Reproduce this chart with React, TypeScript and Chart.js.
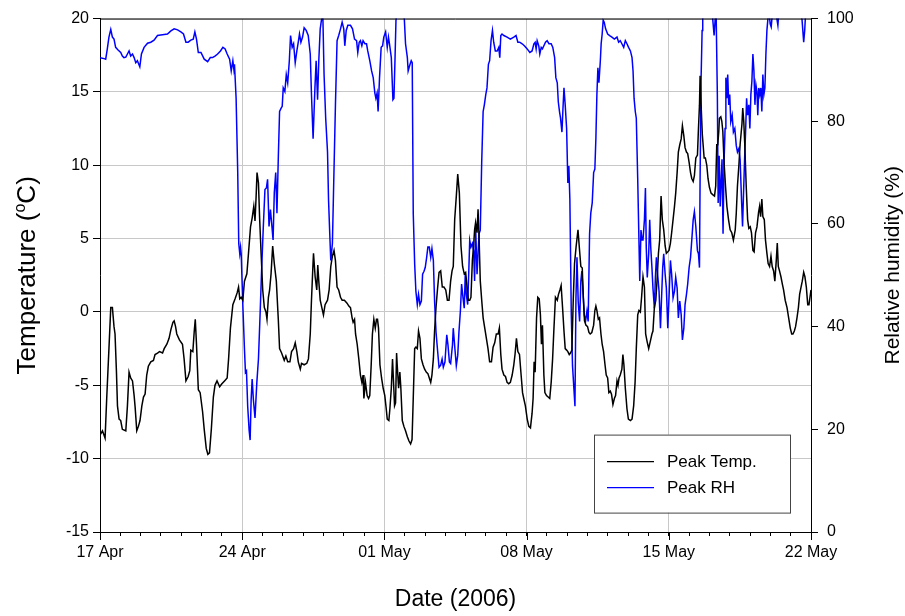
import React, { useEffect, useRef } from 'react';
import { Chart, registerables } from 'chart.js';

Chart.register(...registerables);

// Tick labels of the date axis (one every 7 days from 17 Apr 2006)
const dateLabels = ['17 Apr', '24 Apr', '01 May', '08 May', '15 May', '22 May'];

// Peak temperature: days since 17 Apr 2006, and °C
const tempDay = [
  0.00, 0.12, 0.25, 0.33, 0.44, 0.53, 0.61, 0.69, 0.74, 0.81, 0.86, 0.94, 1.02, 1.10, 1.27, 1.35, 1.43, 1.51, 1.60, 1.68,
  1.73, 1.81, 1.89, 1.97, 2.06, 2.14, 2.22, 2.30, 2.38, 2.50, 2.63, 2.71, 2.83, 2.93, 3.08, 3.16, 3.29, 3.40, 3.49, 3.59,
  3.65, 3.72, 3.78, 3.91, 4.06, 4.14, 4.23, 4.34, 4.42, 4.47, 4.57, 4.64, 4.69, 4.75, 4.84, 4.93, 5.05, 5.13, 5.23, 5.31,
  5.39, 5.48, 5.58, 5.66, 5.76, 5.89, 6.00, 6.13, 6.26, 6.33, 6.42, 6.54, 6.65, 6.75, 6.82, 6.88, 6.95, 7.03, 7.11, 7.23,
  7.31, 7.41, 7.49, 7.57, 7.63, 7.68, 7.73, 7.80, 7.86, 7.93, 8.01, 8.09, 8.17, 8.22, 8.29, 8.35, 8.42, 8.50, 8.58, 8.68,
  8.78, 8.84, 8.94, 9.07, 9.15, 9.24, 9.35, 9.43, 9.53, 9.61, 9.69, 9.76, 9.86, 9.92, 10.05, 10.18, 10.26, 10.35, 10.41, 10.48,
  10.51, 10.59, 10.67, 10.72, 10.77, 10.84, 10.92, 11.00, 11.08, 11.20, 11.28, 11.36, 11.44, 11.52, 11.59, 11.67, 11.75, 11.84, 11.92, 12.03,
  12.16, 12.25, 12.33, 12.41, 12.46, 12.53, 12.58, 12.66, 12.74, 12.82, 12.89, 12.95, 12.99, 13.07, 13.15, 13.22, 13.28, 13.35, 13.41, 13.48,
  13.55, 13.61, 13.66, 13.71, 13.78, 13.86, 13.94, 14.02, 14.09, 14.14, 14.22, 14.27, 14.34, 14.40, 14.45, 14.50, 14.55, 14.60, 14.63, 14.70,
  14.76, 14.81, 14.88, 14.96, 15.04, 15.13, 15.21, 15.29, 15.36, 15.42, 15.49, 15.55, 15.62, 15.68, 15.75, 15.82, 15.90, 15.98, 16.06, 16.14,
  16.21, 16.28, 16.34, 16.41, 16.47, 16.54, 16.61, 16.69, 16.77, 16.85, 16.93, 17.02, 17.10, 17.18, 17.26, 17.33, 17.39, 17.46, 17.54, 17.61,
  17.69, 17.77, 17.85, 17.93, 18.00, 18.07, 18.13, 18.20, 18.26, 18.33, 18.39, 18.44, 18.49, 18.56, 18.61, 18.66, 18.72, 18.79, 18.86, 18.94,
  19.02, 19.10, 19.18, 19.27, 19.35, 19.43, 19.51, 19.60, 19.66, 19.73, 19.79, 19.88, 19.96, 20.04, 20.12, 20.20, 20.29, 20.37, 20.43, 20.50,
  20.57, 20.65, 20.73, 20.80, 20.86, 20.94, 21.03, 21.11, 21.19, 21.27, 21.32, 21.37, 21.42, 21.49, 21.55, 21.62, 21.68, 21.73, 21.78, 21.85,
  21.90, 21.98, 22.06, 22.14, 22.21, 22.28, 22.34, 22.42, 22.51, 22.57, 22.64, 22.70, 22.77, 22.84, 22.90, 22.97, 23.03, 23.10, 23.16, 23.23,
  23.30, 23.36, 23.44, 23.53, 23.59, 23.67, 23.74, 23.79, 23.85, 23.92, 24.00, 24.07, 24.13, 24.21, 24.30, 24.36, 24.41, 24.46, 24.53, 24.59,
  24.66, 24.72, 24.79, 24.86, 24.92, 24.99, 25.05, 25.12, 25.18, 25.25, 25.32, 25.38, 25.45, 25.50, 25.55, 25.61, 25.69, 25.74, 25.79, 25.86,
  25.94, 26.01, 26.11, 26.19, 26.27, 26.34, 26.40, 26.47, 26.53, 26.60, 26.66, 26.73, 26.80, 26.86, 26.93, 27.01, 27.09, 27.17, 27.22, 27.29,
  27.36, 27.42, 27.49, 27.55, 27.62, 27.68, 27.75, 27.82, 27.88, 27.95, 28.01, 28.08, 28.14, 28.21, 28.28, 28.34, 28.41, 28.47, 28.54, 28.61,
  28.67, 28.74, 28.80, 28.87, 28.93, 29.00, 29.07, 29.13, 29.20, 29.26, 29.33, 29.41, 29.46, 29.51, 29.54, 29.59, 29.65, 29.74, 29.80, 29.87,
  29.93, 30.00, 30.08, 30.16, 30.25, 30.31, 30.36, 30.41, 30.46, 30.49, 30.56, 30.61, 30.66, 30.72, 30.79, 30.86, 30.94, 31.02, 31.10, 31.18,
  31.27, 31.32, 31.38, 31.45, 31.51, 31.60, 31.64, 31.69, 31.74, 31.81, 31.88, 31.94, 32.01, 32.07, 32.14, 32.20, 32.27, 32.34, 32.42, 32.47,
  32.52, 32.58, 32.63, 32.70, 32.76, 32.83, 32.89, 32.96, 33.03, 33.09, 33.16, 33.22, 33.29, 33.34, 33.39, 33.45, 33.52, 33.59, 33.65, 33.73,
  33.82, 33.90, 33.98, 34.05, 34.11, 34.18, 34.24, 34.31, 34.38, 34.44, 34.51, 34.57, 34.64, 34.70, 34.77, 34.84, 34.90, 34.97, 35.00,
];
const tempC = [
  -8.4, -8.1, -8.6, -5.9, -2.5, 0.3, 0.3, -1.0, -1.5, -4.1, -6.4, -7.3, -7.4, -8.0, -8.1, -6.4, -4.1, -4.5, -4.7, -5.7,
  -6.5, -8.1, -7.8, -7.4, -6.4, -5.8, -5.6, -4.3, -3.7, -3.4, -3.3, -2.9, -2.8, -2.7, -2.8, -2.5, -2.2, -1.8, -1.2, -0.7,
  -0.6, -1.0, -1.5, -1.9, -2.2, -3.2, -4.7, -4.4, -4.0, -2.6, -2.7, -1.3, -0.5, -2.2, -5.3, -5.5, -6.8, -8.0, -9.3, -9.7,
  -9.6, -8.0, -5.8, -5.0, -4.7, -5.1, -4.9, -4.7, -4.5, -3.2, -1.1, 0.5, 0.9, 1.3, 1.7, 0.9, 1.0, 0.8, 2.1, 2.6,
  4.0, 5.8, 6.4, 7.2, 6.2, 7.7, 9.5, 8.8, 6.3, 4.0, 1.5, 0.3, 0.0, -0.5, 1.0, 1.5, 2.6, 4.5, 3.3, 2.1,
  -0.6, -2.5, -2.8, -3.3, -3.0, -3.4, -3.4, -2.7, -2.5, -2.1, -2.7, -3.4, -3.9, -3.5, -3.6, -3.5, -3.2, -1.5, 0.8, 3.1,
  4.0, 2.4, 1.5, 3.2, 2.1, 0.8, 0.3, -0.2, 0.5, 0.8, 1.5, 3.1, 3.8, 4.2, 3.5, 1.7, 1.5, 1.0, 0.8, 0.8,
  0.6, 0.4, 0.3, -0.4, -0.7, -0.5, -1.5, -2.2, -3.2, -4.3, -4.8, -4.3, -5.9, -4.8, -5.7, -5.9, -5.7, -3.6, -1.5, -0.5,
  -1.1, -0.5, -0.5, -1.1, -3.6, -4.5, -5.2, -5.7, -6.6, -7.3, -7.4, -6.6, -5.2, -3.2, -4.8, -6.4, -6.2, -2.8, -3.6, -5.2,
  -4.1, -5.2, -7.4, -7.8, -8.1, -8.5, -8.8, -9.0, -8.7, -5.9, -2.5, -2.4, -2.5, -1.3, -1.8, -3.2, -3.6, -3.9, -4.1, -4.2,
  -4.5, -4.8, -4.3, -3.2, -1.3, 0.3, 1.5, 2.7, 2.8, 1.7, 1.7, 1.5, 0.8, 0.8, 2.1, 2.8, 3.1, 6.3, 7.9, 9.4,
  8.1, 4.5, 3.1, 2.6, 2.7, 1.7, 0.8, 0.8, 1.0, 3.5, 4.5, 5.6, 6.1, 5.4, 7.0, 5.1, 2.1, 0.8, -0.4, -1.1,
  -1.8, -2.5, -3.4, -3.4, -2.4, -2.1, -1.5, -1.5, -1.1, -2.9, -3.9, -4.3, -4.4, -4.8, -4.9, -4.8, -4.3, -3.6, -2.9, -1.8,
  -2.7, -2.9, -4.3, -5.5, -5.9, -6.4, -7.3, -7.8, -7.9, -6.9, -5.9, -3.4, -4.1, -0.4, 1.0, 0.9, -0.2, -2.2, -0.9, -4.3,
  -5.5, -5.7, -5.8, -5.9, -4.8, -3.2, -1.3, 1.0, 0.8, 1.2, 1.5, 1.8, 0.3, -1.3, -2.5, -2.6, -2.7, -2.9, -2.8, -2.6,
  1.0, 3.3, 4.5, 5.6, 4.5, 3.1, 3.0, 1.0, -0.6, -0.9, -1.0, -1.4, -1.5, -1.4, -0.9, 0.1, 0.4, 0.1, -0.5, -0.4,
  -1.5, -2.2, -2.7, -3.6, -4.3, -4.5, -5.5, -5.4, -5.6, -6.3, -5.9, -5.7, -4.7, -5.0, -4.5, -4.3, -3.9, -2.9, -3.6, -5.2,
  -6.6, -7.3, -7.4, -7.3, -6.4, -4.8, -2.5, -0.2, 0.1, 0.0, 1.0, 2.4, 1.7, -1.5, -2.0, -2.5, -2.0, -1.5, -1.3, 0.3,
  0.8, 2.1, 4.0, 4.9, 7.9, 6.3, 5.6, 4.5, 4.0, 4.1, 4.2, 4.7, 5.4, 6.3, 7.2, 8.1, 9.5, 10.9, 11.4, 11.8,
  12.7, 12.0, 11.2, 10.9, 10.8, 10.2, 9.5, 9.1, 8.9, 9.3, 10.5, 10.7, 12.5, 14.1, 16.1, 14.1, 12.1, 10.5, 10.5, 10.0,
  9.1, 8.5, 8.1, 8.0, 7.9, 8.6, 11.4, 11.4, 12.3, 13.2, 13.3, 13.0, 12.3, 10.2, 8.6, 7.2, 6.3, 5.6, 5.4, 4.9,
  5.6, 6.7, 8.6, 10.0, 11.4, 12.8, 13.9, 13.0, 11.4, 8.6, 6.3, 5.7, 5.8, 5.4, 4.2, 4.1, 5.4, 5.8, 6.8, 7.2,
  6.5, 7.7, 6.5, 6.3, 4.9, 4.0, 3.3, 3.1, 3.8, 3.1, 2.8, 2.1, 3.5, 4.7, 3.1, 2.8, 2.4, 1.9, 1.5, 0.8,
  0.3, -0.4, -1.1, -1.5, -1.5, -1.3, -1.0, -0.4, 0.3, 1.2, 1.7, 2.1, 2.7, 2.4, 1.7, 0.5, 0.5, 1.2, 1.5,
];

// Peak relative humidity: days since 17 Apr 2006, and %
const rhDay = [
  0.00, 0.20, 0.28, 0.36, 0.44, 0.53, 0.61, 0.69, 0.77, 0.89, 1.02, 1.10, 1.18, 1.27, 1.35, 1.43, 1.51, 1.60, 1.68, 1.76,
  1.84, 1.96, 2.04, 2.17, 2.34, 2.50, 2.66, 2.83, 2.99, 3.16, 3.32, 3.49, 3.65, 3.82, 3.98, 4.11, 4.23, 4.34, 4.47, 4.59,
  4.67, 4.75, 4.84, 4.97, 5.13, 5.30, 5.43, 5.54, 5.66, 5.79, 5.93, 6.05, 6.16, 6.26, 6.38, 6.46, 6.54, 6.59, 6.62, 6.70,
  6.78, 6.83, 6.88, 6.92, 6.95, 7.03, 7.11, 7.16, 7.21, 7.27, 7.34, 7.39, 7.44, 7.49, 7.55, 7.63, 7.72, 7.80, 7.88, 7.96,
  8.04, 8.12, 8.19, 8.25, 8.32, 8.39, 8.45, 8.52, 8.58, 8.65, 8.71, 8.78, 8.84, 8.91, 8.97, 9.02, 9.10, 9.17, 9.24, 9.32,
  9.38, 9.46, 9.53, 9.61, 9.69, 9.76, 9.82, 9.89, 9.97, 10.05, 10.15, 10.25, 10.35, 10.41, 10.49, 10.58, 10.64, 10.71, 10.77, 10.84,
  10.90, 10.97, 11.03, 11.11, 11.20, 11.25, 11.31, 11.36, 11.44, 11.52, 11.59, 11.67, 11.75, 11.84, 11.92, 12.00, 12.05, 12.12, 12.20, 12.33,
  12.43, 12.53, 12.63, 12.69, 12.76, 12.82, 12.89, 12.95, 13.04, 13.12, 13.18, 13.28, 13.37, 13.45, 13.53, 13.58, 13.64, 13.69, 13.76, 13.84,
  13.91, 13.97, 14.06, 14.14, 14.20, 14.25, 14.34, 14.42, 14.47, 14.52, 14.57, 14.63, 14.80, 14.93, 14.98, 15.04, 15.13, 15.17, 15.24, 15.32,
  15.37, 15.42, 15.49, 15.55, 15.62, 15.68, 15.75, 15.82, 15.88, 15.95, 16.01, 16.08, 16.14, 16.21, 16.28, 16.34, 16.41, 16.47, 16.54, 16.61,
  16.69, 16.77, 16.84, 16.90, 16.98, 17.07, 17.13, 17.20, 17.26, 17.35, 17.39, 17.47, 17.54, 17.61, 17.67, 17.74, 17.80, 17.87, 17.93, 17.98,
  18.03, 18.10, 18.16, 18.20, 18.26, 18.33, 18.39, 18.44, 18.49, 18.56, 18.61, 18.66, 18.72, 18.79, 18.86, 18.92, 18.99, 19.05, 19.12, 19.18,
  19.25, 19.32, 19.38, 19.46, 19.55, 19.63, 19.68, 19.73, 19.79, 19.88, 20.04, 20.20, 20.37, 20.48, 20.57, 20.66, 20.78, 20.89, 21.03, 21.16,
  21.27, 21.36, 21.42, 21.47, 21.52, 21.60, 21.65, 21.72, 21.78, 21.85, 21.93, 22.01, 22.10, 22.21, 22.29, 22.38, 22.44, 22.51, 22.56, 22.62,
  22.67, 22.74, 22.79, 22.84, 22.90, 22.97, 23.03, 23.08, 23.13, 23.20, 23.26, 23.33, 23.38, 23.43, 23.48, 23.54, 23.61, 23.67, 23.72, 23.77,
  23.84, 23.90, 23.97, 24.03, 24.10, 24.16, 24.23, 24.30, 24.36, 24.41, 24.46, 24.51, 24.56, 24.63, 24.67, 24.72, 24.77, 24.82, 24.89, 24.99,
  25.09, 25.20, 25.32, 25.45, 25.53, 25.61, 25.69, 25.78, 25.86, 25.94, 26.02, 26.11, 26.19, 26.24, 26.29, 26.35, 26.40, 26.47, 26.52, 26.57,
  26.63, 26.68, 26.73, 26.80, 26.85, 26.89, 26.94, 27.01, 27.06, 27.11, 27.17, 27.22, 27.29, 27.34, 27.39, 27.45, 27.52, 27.59, 27.65, 27.70,
  27.75, 27.82, 27.88, 27.95, 28.01, 28.08, 28.14, 28.21, 28.28, 28.34, 28.41, 28.47, 28.54, 28.61, 28.67, 28.74, 28.80, 28.87, 28.93, 29.00,
  29.07, 29.13, 29.20, 29.26, 29.33, 29.41, 29.46, 29.51, 29.54, 29.59, 29.64, 29.67, 29.87, 30.12, 30.16, 30.23, 30.28, 30.33, 30.39, 30.43,
  30.48, 30.53, 30.58, 30.62, 30.67, 30.72, 30.77, 30.81, 30.86, 30.90, 30.95, 31.00, 31.05, 31.12, 31.18, 31.25, 31.32, 31.38, 31.45, 31.51,
  31.58, 31.63, 31.68, 31.73, 31.78, 31.83, 31.88, 31.94, 31.99, 32.04, 32.09, 32.14, 32.19, 32.24, 32.29, 32.34, 32.38, 32.43, 32.48, 32.53,
  32.58, 32.63, 32.68, 32.73, 32.78, 32.83, 32.88, 32.93, 32.99, 33.04, 33.09, 33.24, 33.37, 33.42, 33.82, 34.47, 34.56, 34.64, 34.69, 34.74,
  35.00,
];
const rhPct = [
  92.4, 92.2, 92.1, 94.1, 96.4, 97.9, 96.4, 96.0, 94.4, 93.9, 93.4, 92.7, 92.4, 92.5, 93.1, 93.7, 92.7, 93.1, 92.4, 91.4,
  91.8, 90.6, 93.1, 94.4, 95.2, 95.4, 95.8, 96.7, 96.8, 96.9, 97.0, 97.6, 98.0, 97.8, 97.4, 97.0, 95.4, 95.4, 95.8, 96.0,
  97.4, 96.0, 93.4, 93.4, 92.1, 91.6, 92.4, 92.4, 92.7, 93.1, 93.7, 94.4, 94.1, 93.1, 92.1, 89.8, 91.8, 90.1, 91.1, 84.5,
  70.0, 56.2, 54.2, 55.5, 54.2, 44.3, 35.7, 31.1, 31.4, 24.5, 19.9, 17.9, 25.8, 29.8, 25.8, 22.2, 29.1, 33.7, 42.3, 51.5,
  59.5, 66.7, 67.0, 68.7, 59.5, 62.8, 60.1, 56.9, 66.1, 70.0, 62.1, 73.3, 81.9, 82.5, 82.9, 86.5, 85.8, 89.1, 87.5, 91.8,
  96.7, 94.4, 95.1, 91.4, 93.7, 95.4, 97.0, 95.4, 96.4, 98.2, 97.7, 96.7, 93.1, 85.2, 76.6, 86.5, 91.8, 84.2, 91.8, 98.0,
  99.7, 100.5, 89.1, 80.6, 74.0, 64.7, 58.1, 52.9, 56.2, 70.7, 83.2, 95.7, 96.7, 98.0, 99.3, 98.0, 94.7, 97.7, 98.7, 98.7,
  98.0, 96.0, 95.7, 93.4, 95.4, 95.7, 94.7, 95.7, 95.1, 95.1, 93.7, 91.8, 89.8, 88.5, 85.5, 84.5, 85.5, 81.9, 88.5, 94.4,
  94.7, 96.4, 97.4, 94.4, 96.4, 95.1, 92.4, 84.2, 84.5, 91.8, 99.7, 101.5, 102.0, 101.5, 100.0, 95.1, 92.4, 89.8, 90.8, 91.8,
  91.4, 62.1, 52.2, 46.9, 44.3, 46.3, 44.3, 45.0, 50.2, 50.8, 51.5, 53.5, 55.5, 55.5, 53.5, 55.2, 52.9, 45.0, 39.0, 35.7,
  32.1, 32.5, 33.7, 32.1, 33.1, 38.4, 36.4, 33.1, 32.8, 36.4, 39.7, 35.7, 32.4, 34.4, 39.0, 43.0, 48.3, 45.6, 43.6, 50.2,
  46.3, 44.3, 51.5, 56.8, 55.5, 56.2, 54.8, 48.9, 59.5, 50.2, 54.2, 58.1, 58.8, 72.0, 81.9, 83.2, 85.2, 86.5, 91.1, 91.8,
  95.7, 97.7, 95.4, 93.7, 93.7, 94.4, 92.4, 96.7, 97.0, 96.7, 96.4, 96.0, 96.4, 96.7, 95.4, 95.4, 95.1, 94.7, 94.1, 93.4,
  93.7, 95.1, 95.4, 94.1, 95.7, 94.7, 93.1, 94.4, 94.1, 94.7, 95.4, 95.7, 95.1, 95.1, 94.4, 92.4, 88.5, 87.5, 83.8, 81.9,
  80.6, 77.9, 82.5, 86.5, 83.2, 78.6, 68.0, 71.3, 64.7, 42.3, 32.4, 27.8, 24.5, 45.6, 53.5, 44.9, 41.0, 48.9, 50.8, 47.5,
  42.3, 41.0, 43.0, 41.0, 58.1, 62.1, 64.1, 70.0, 70.7, 76.6, 85.2, 90.4, 87.5, 91.8, 95.1, 97.0, 99.7, 99.3, 98.0, 97.0,
  96.7, 96.4, 96.0, 96.4, 95.4, 95.7, 95.1, 94.4, 95.7, 95.1, 94.4, 93.7, 92.4, 89.8, 84.5, 81.9, 80.6, 68.7, 58.8, 48.9,
  58.8, 56.9, 56.9, 60.8, 67.0, 55.5, 49.6, 54.2, 60.8, 55.5, 51.5, 47.5, 43.6, 49.6, 53.5, 50.2, 46.9, 39.7, 46.3, 51.5,
  54.2, 50.2, 47.5, 39.7, 45.6, 52.9, 50.2, 45.6, 46.9, 49.6, 47.5, 41.7, 45.0, 42.3, 37.4, 39.7, 44.3, 46.3, 48.3, 51.5,
  53.5, 56.8, 60.8, 62.4, 59.5, 54.8, 54.2, 51.5, 68.7, 88.5, 97.7, 102.0, 103.0, 102.0, 100.0, 96.7, 99.7, 101.0, 85.2, 64.1,
  73.3, 63.4, 68.7, 72.6, 58.1, 72.0, 78.6, 88.5, 84.5, 89.1, 83.2, 85.2, 79.9, 81.2, 77.9, 78.6, 75.3, 74.0, 74.7, 72.6,
  64.7, 59.5, 66.1, 72.6, 77.9, 84.5, 81.2, 83.2, 78.6, 85.2, 87.8, 93.1, 89.8, 83.2, 87.1, 85.8, 81.2, 86.5, 85.2, 86.5,
  81.9, 89.1, 85.2, 86.5, 93.1, 97.7, 100.0, 101.5, 99.0, 98.4, 100.5, 102.0, 98.7, 101.5, 103.0, 102.0, 99.7, 95.4, 97.7, 101.5,
  102.0,
];

const FONT = '"Liberation Sans", Arial, Helvetica, sans-serif';
const TICK_FONT = 16;

export default function App() {
  const ref = useRef<HTMLCanvasElement | null>(null);

  useEffect(() => {
    const canvas = ref.current;
    if (!canvas) return;

    const decorations = {
      id: 'decorations',
      afterDatasetsDraw(chart: any) {
        const { ctx, chartArea: a } = chart;
        ctx.save();
        // top frame line
        ctx.strokeStyle = '#000';
        ctx.lineWidth = 1;
        ctx.beginPath();
        ctx.moveTo(a.left, a.top + 0.5);
        ctx.lineTo(a.right, a.top + 0.5);
        ctx.stroke();
        ctx.restore();
      },
      afterDraw(chart: any) {
        const { ctx, chartArea: a } = chart;
        const xs = chart.scales.x;
        ctx.save();
        // longer major ticks every 7 days
        ctx.strokeStyle = '#000';
        ctx.lineWidth = 1;
        for (let v = 0; v <= 35; v += 7) {
          const px = Math.round(xs.getPixelForValue(v)) + 0.5;
          ctx.beginPath();
          ctx.moveTo(px, a.bottom);
          ctx.lineTo(px, a.bottom + 8);
          ctx.stroke();
        }

        // legend box
        const bx = a.right - 217;
        const by = a.top + 416;
        const bw = 196;
        const bh = 78;
        ctx.fillStyle = '#fff';
        ctx.fillRect(bx, by, bw, bh);
        ctx.strokeStyle = '#444';
        ctx.lineWidth = 1;
        ctx.strokeRect(bx + 0.5, by + 0.5, bw, bh);
        const items = [
          { label: chart.data.datasets[0].label, color: '#000' },
          { label: chart.data.datasets[1].label, color: '#0000ff' },
        ];
        ctx.font = `17px ${FONT}`;
        ctx.textBaseline = 'middle';
        ctx.textAlign = 'left';
        items.forEach((it, i) => {
          const ly = by + 27 + i * 26;
          ctx.strokeStyle = it.color;
          ctx.lineWidth = 1.2;
          ctx.beginPath();
          ctx.moveTo(bx + 13, ly);
          ctx.lineTo(bx + 60, ly);
          ctx.stroke();
          ctx.fillStyle = '#000';
          ctx.fillText(it.label, bx + 73, ly + 1);
        });

        // x axis title
        ctx.fillStyle = '#000';
        ctx.textAlign = 'center';
        ctx.textBaseline = 'middle';
        ctx.font = `23px ${FONT}`;
        ctx.fillText('Date (2006)', (a.left + a.right) / 2, 600);

        // left axis title with superscript o
        const cy = (a.top + a.bottom) / 2;
        ctx.save();
        ctx.translate(26, cy);
        ctx.rotate(-Math.PI / 2);
        const big = `26px ${FONT}`;
        const small = `16px ${FONT}`;
        const p1 = 'Temperature (';
        const p2 = 'o';
        const p3 = 'C)';
        ctx.font = big;
        const w1 = ctx.measureText(p1).width;
        const w3 = ctx.measureText(p3).width;
        ctx.font = small;
        const w2 = ctx.measureText(p2).width;
        const total = w1 + w2 + w3;
        let x0 = -total / 2;
        ctx.textAlign = 'left';
        ctx.textBaseline = 'alphabetic';
        ctx.font = big;
        ctx.fillText(p1, x0, 9);
        x0 += w1;
        ctx.font = small;
        ctx.fillText(p2, x0, -1);
        x0 += w2;
        ctx.font = big;
        ctx.fillText(p3, x0, 9);
        ctx.restore();

        // right axis title
        ctx.save();
        ctx.translate(893, cy - 10);
        ctx.rotate(-Math.PI / 2);
        ctx.font = `21px ${FONT}`;
        ctx.textAlign = 'center';
        ctx.textBaseline = 'middle';
        ctx.fillText('Relative humidity (%)', 0, 0);
        ctx.restore();

        ctx.restore();
      },
    };

    const chart = new Chart(canvas, {
      type: 'line',
      data: {
        datasets: [
          {
            label: 'Peak Temp.',
            data: tempDay.map((d, i) => ({ x: d, y: tempC[i] })),
            borderColor: '#000000',
            borderWidth: 1.5,
            pointRadius: 0,
            tension: 0,
            yAxisID: 'y',
          },
          {
            label: 'Peak RH',
            data: rhDay.map((d, i) => ({ x: d, y: rhPct[i] })),
            borderColor: '#0000ff',
            borderWidth: 1.5,
            pointRadius: 0,
            tension: 0,
            yAxisID: 'y2',
          },
        ],
      },
      options: {
        responsive: false,
        animation: false,
        devicePixelRatio: 1,
        layout: { padding: { top: 18, left: 0, right: 0, bottom: 0 } },
        plugins: {
          legend: { display: false },
          tooltip: { enabled: false },
          title: { display: false },
        },
        scales: {
          x: {
            type: 'linear',
            min: 0,
            max: 35,
            afterFit: (s: any) => {
              s.height = 84;
            },
            ticks: {
              stepSize: 1,
              autoSkip: false,
              maxRotation: 0,
              minRotation: 0,
              padding: 7,
              color: '#000',
              font: { family: FONT, size: TICK_FONT },
              callback: (v: any) => (Number(v) % 7 === 0 ? dateLabels[Number(v) / 7] : ''),
            },
            grid: {
              color: (c: any) => (c.tick && c.tick.value % 7 === 0 ? '#c8c8c8' : 'rgba(0,0,0,0)'),
              tickColor: '#000',
              tickLength: 4,
              lineWidth: 1,
            },
            border: { color: '#000', width: 1 },
          },
          y: {
            type: 'linear',
            position: 'left',
            min: -15,
            max: 20,
            afterFit: (s: any) => {
              s.width = 100;
            },
            ticks: {
              stepSize: 5,
              padding: 4,
              color: '#000',
              font: { family: FONT, size: TICK_FONT },
            },
            grid: {
              color: '#c8c8c8',
              tickColor: '#000',
              tickLength: 7,
              lineWidth: 1,
            },
            border: { color: '#000', width: 1 },
          },
          y2: {
            type: 'linear',
            position: 'right',
            min: 0,
            max: 100,
            afterFit: (s: any) => {
              s.width = 94;
            },
            ticks: {
              stepSize: 20,
              padding: 9,
              color: '#000',
              font: { family: FONT, size: TICK_FONT },
            },
            grid: {
              drawOnChartArea: false,
              tickColor: '#000',
              tickLength: 7,
            },
            border: { color: '#000', width: 1 },
          },
        },
      },
      plugins: [decorations],
    });

    return () => chart.destroy();
  }, []);

  return (
    <div style={{ position: 'fixed', left: 0, top: 0, width: 905, height: 616, background: '#fff' }}>
      <canvas ref={ref} width={905} height={616} style={{ display: 'block', width: 905, height: 616 }} />
    </div>
  );
}
